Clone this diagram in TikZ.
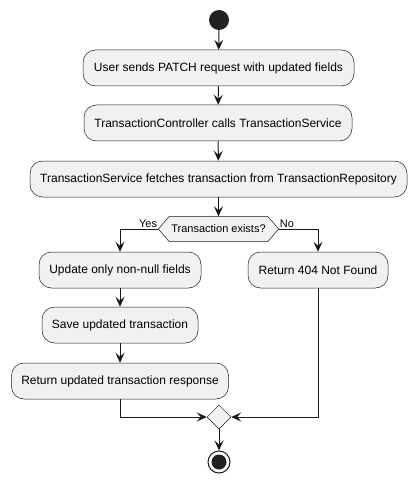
\documentclass[tikz,border=0pt]{standalone}
\usepackage{fontspec}
\setmainfont{Liberation Sans}
\usetikzlibrary{arrows.meta,shapes.geometric}
\definecolor{boxfill}{HTML}{F1F1F1}
\definecolor{ink}{HTML}{181818}
\definecolor{dotc}{HTML}{222222}
\begin{document}
\begin{tikzpicture}[x=1pt,y=-1pt,
  font=\fontsize{12}{14}\selectfont,
  act/.style={draw=ink, fill=boxfill, rounded corners=12.5pt, line width=0.5pt,
    minimum height=36pt, inner xsep=2pt, inner ysep=0pt},
  arr/.style={draw=ink, line width=1pt, -{Stealth[length=10pt,width=9pt,inset=4pt]}},
  conn/.style={draw=ink, line width=1pt},
  lbl/.style={font=\fontsize{11}{13}\selectfont, inner sep=1pt}]
\useasboundingbox (0,0) rectangle (417,481);
\node[circle, fill=dotc, minimum size=20pt, inner sep=0pt] (start) at (219,20) {};
\node[act, minimum width=271pt] (a1) at (218.5,68) {User sends PATCH request with updated fields};
\node[act, minimum width=268pt] (a2) at (218,123) {TransactionController calls TransactionService};
\node[act, minimum width=377pt] (a3) at (218.5,179) {TransactionService fetches transaction from TransactionRepository};
\node[minimum width=98pt, minimum height=25pt, inner sep=0pt, font=\fontsize{11}{13}\selectfont] (dec) at (218.5,229) {};
\coordinate (decL) at ([xshift=-11pt]dec.west);
\coordinate (decR) at ([xshift=11pt]dec.east);
\draw[draw=ink, fill=boxfill, line width=0.5pt] (dec.north west) -- (dec.north east) -- (decR) -- (dec.south east) -- (dec.south west) -- (decL) -- cycle;
\node[font=\fontsize{11}{13}\selectfont, inner sep=0pt] at (dec.center) {Transaction exists?};
\node[act, minimum width=162pt] (a4) at (120,270) {Update only non-null fields};
\node[act, minimum width=140pt] (a5) at (318,270) {Return 404 Not Found};
\node[act, minimum width=156pt] (a6) at (120,325) {Save updated transaction};
\node[act, minimum width=217pt] (a7) at (120,381) {Return updated transaction response};
\node[diamond, draw=ink, fill=boxfill, line width=0.5pt, minimum width=24pt, minimum height=24pt, inner sep=0pt, aspect=1] (m) at (219,417) {};
\node[circle, draw=ink, fill=white, line width=1pt, minimum size=22pt, inner sep=0pt] (end) at (219,462) {};
\fill[dotc] (end.center) circle (7.5pt);
\draw[arr] (start) -- (a1);
\draw[arr] (a1) -- (a2);
\draw[arr] (a2) -- (a3);
\draw[arr] (a3) -- (dec.north);
\draw[arr] (decL) -| (a4.north);
\draw[arr] (decR) -| (a5.north);
\node[lbl, anchor=south east] at (decL) {Yes};
\node[lbl, anchor=south west] at (decR) {No};
\draw[arr] (a4) -- (a6);
\draw[arr] (a6) -- (a7);
\draw[arr] (a7.south) |- (m.west);
\draw[arr] (a5.south) |- (m.east);
\draw[arr] (m.south) -- (end.north);
\end{tikzpicture}
\end{document}
